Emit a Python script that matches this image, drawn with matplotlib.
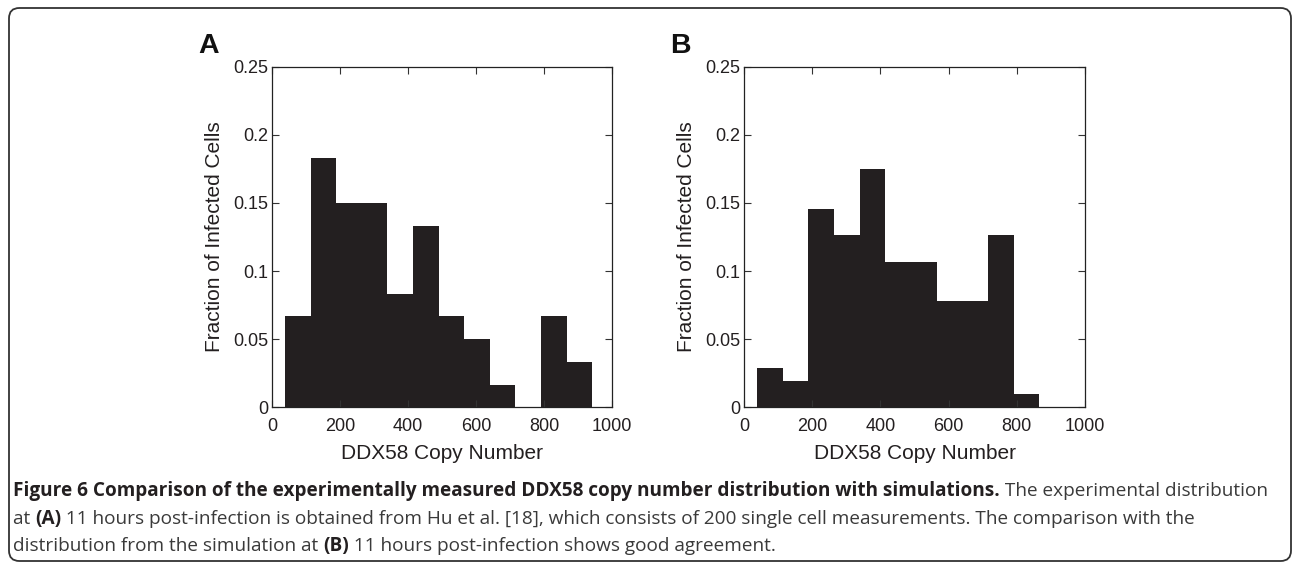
import matplotlib
matplotlib.use("Agg")
import matplotlib.pyplot as plt
from matplotlib.patches import FancyBboxPatch
import numpy as np

# Data
bin_start = 38.0
bin_width = 75.3
n_bins = 12
frac_A = [0.0667, 0.1833, 0.15, 0.15, 0.0833, 0.1333, 0.0667, 0.05, 0.0167, 0.0, 0.0667, 0.0333]
frac_B = [0.0291, 0.0194, 0.1456, 0.1262, 0.1748, 0.1068, 0.1068, 0.0777, 0.0777, 0.1262, 0.0097, 0.0]
xticks = [0, 200, 400, 600, 800, 1000]
yticks = [0, 0.05, 0.1, 0.15, 0.2, 0.25]
ytick_labels = ["0", "0.05", "0.1", "0.15", "0.2", "0.25"]
panel_labels = ["A", "B"]
xlabel = "DDX58 Copy Number"
ylabel = "Fraction of Infected Cells"

plt.rcParams['font.family'] = ['Liberation Sans', 'DejaVu Sans']

fig = plt.figure(figsize=(12.92, 5.62), dpi=100)

# Outer rounded frame
frame = FancyBboxPatch((9 / 1292, 1 - 561 / 562), (1291 - 9) / 1292, (561 - 8) / 562,
                       boxstyle="round,pad=0,rounding_size=0.008",
                       transform=fig.transFigure, fill=False, edgecolor='#333333',
                       linewidth=1.3, mutation_aspect=1292 / 562)
fig.patches.append(frame)

axes_pos = [
    [272 / 1292, 1 - 407.3 / 562, 340 / 1292, 340.6 / 562],
    [744 / 1292, 1 - 407.3 / 562, 341 / 1292, 340.6 / 562],
]
edges = bin_start + bin_width * np.arange(n_bins + 1)
for pos, fr, lab in zip(axes_pos, [frac_A, frac_B], panel_labels):
    ax = fig.add_axes(pos)
    ax.bar(edges[:-1], fr, width=bin_width, align='edge', color='#231f20',
           edgecolor='none', linewidth=0)
    ax.set_xlim(0, 1000)
    ax.set_ylim(0, 0.25)
    ax.set_xticks(xticks)
    ax.set_yticks(yticks)
    ax.set_yticklabels(ytick_labels)
    ax.tick_params(direction='in', top=True, right=True, length=5, width=0.8,
                   labelsize=13, color='#333333', labelcolor='#231f20')
    ax.tick_params(axis='x', pad=8)
    ax.tick_params(axis='y', pad=2.5)
    for s in ax.spines.values():
        s.set_linewidth(0.9)
        s.set_color('#222222')
    ax.set_xlabel(xlabel, fontsize=15, labelpad=6, color='#231f20')
    ax.set_ylabel(ylabel, fontsize=15, labelpad=7, color='#231f20')
    fig.text(pos[0] - 74 / 1292, 1 - 52.5 / 562, lab, fontsize=20.5, fontweight='bold',
             ha='left', va='baseline', color='#111111')

cap_font = ['Open Sans', 'DejaVu Sans']
fs = 13.7
x0 = 13.0
lines = [
    ([("Figure 6 Comparison of the experimentally measured DDX58 copy number distribution with simulations.", True),
      (" The experimental distribution", False)], 496),
    ([("at ", False), ("(A)", True),
      (" 11 hours post-infection is obtained from Hu et al. [18], which consists of 200 single cell measurements. The comparison with the", False)], 524),
    ([("distribution from the simulation at ", False), ("(B)", True),
      (" 11 hours post-infection shows good agreement.", False)], 551),
]
for parts, yb in lines:
    x = x0
    for txt, bold in parts:
        t = fig.text(x / 1292, 1 - yb / 562, txt, fontsize=fs, family=cap_font,
                     fontweight='bold' if bold else 'normal', ha='left', va='baseline',
                     color='#231f20' if bold else '#3a3a3a')
        fig.canvas.draw()
        bb = t.get_window_extent(fig.canvas.get_renderer())
        x = bb.x1

fig.savefig("out.png", dpi=100)
